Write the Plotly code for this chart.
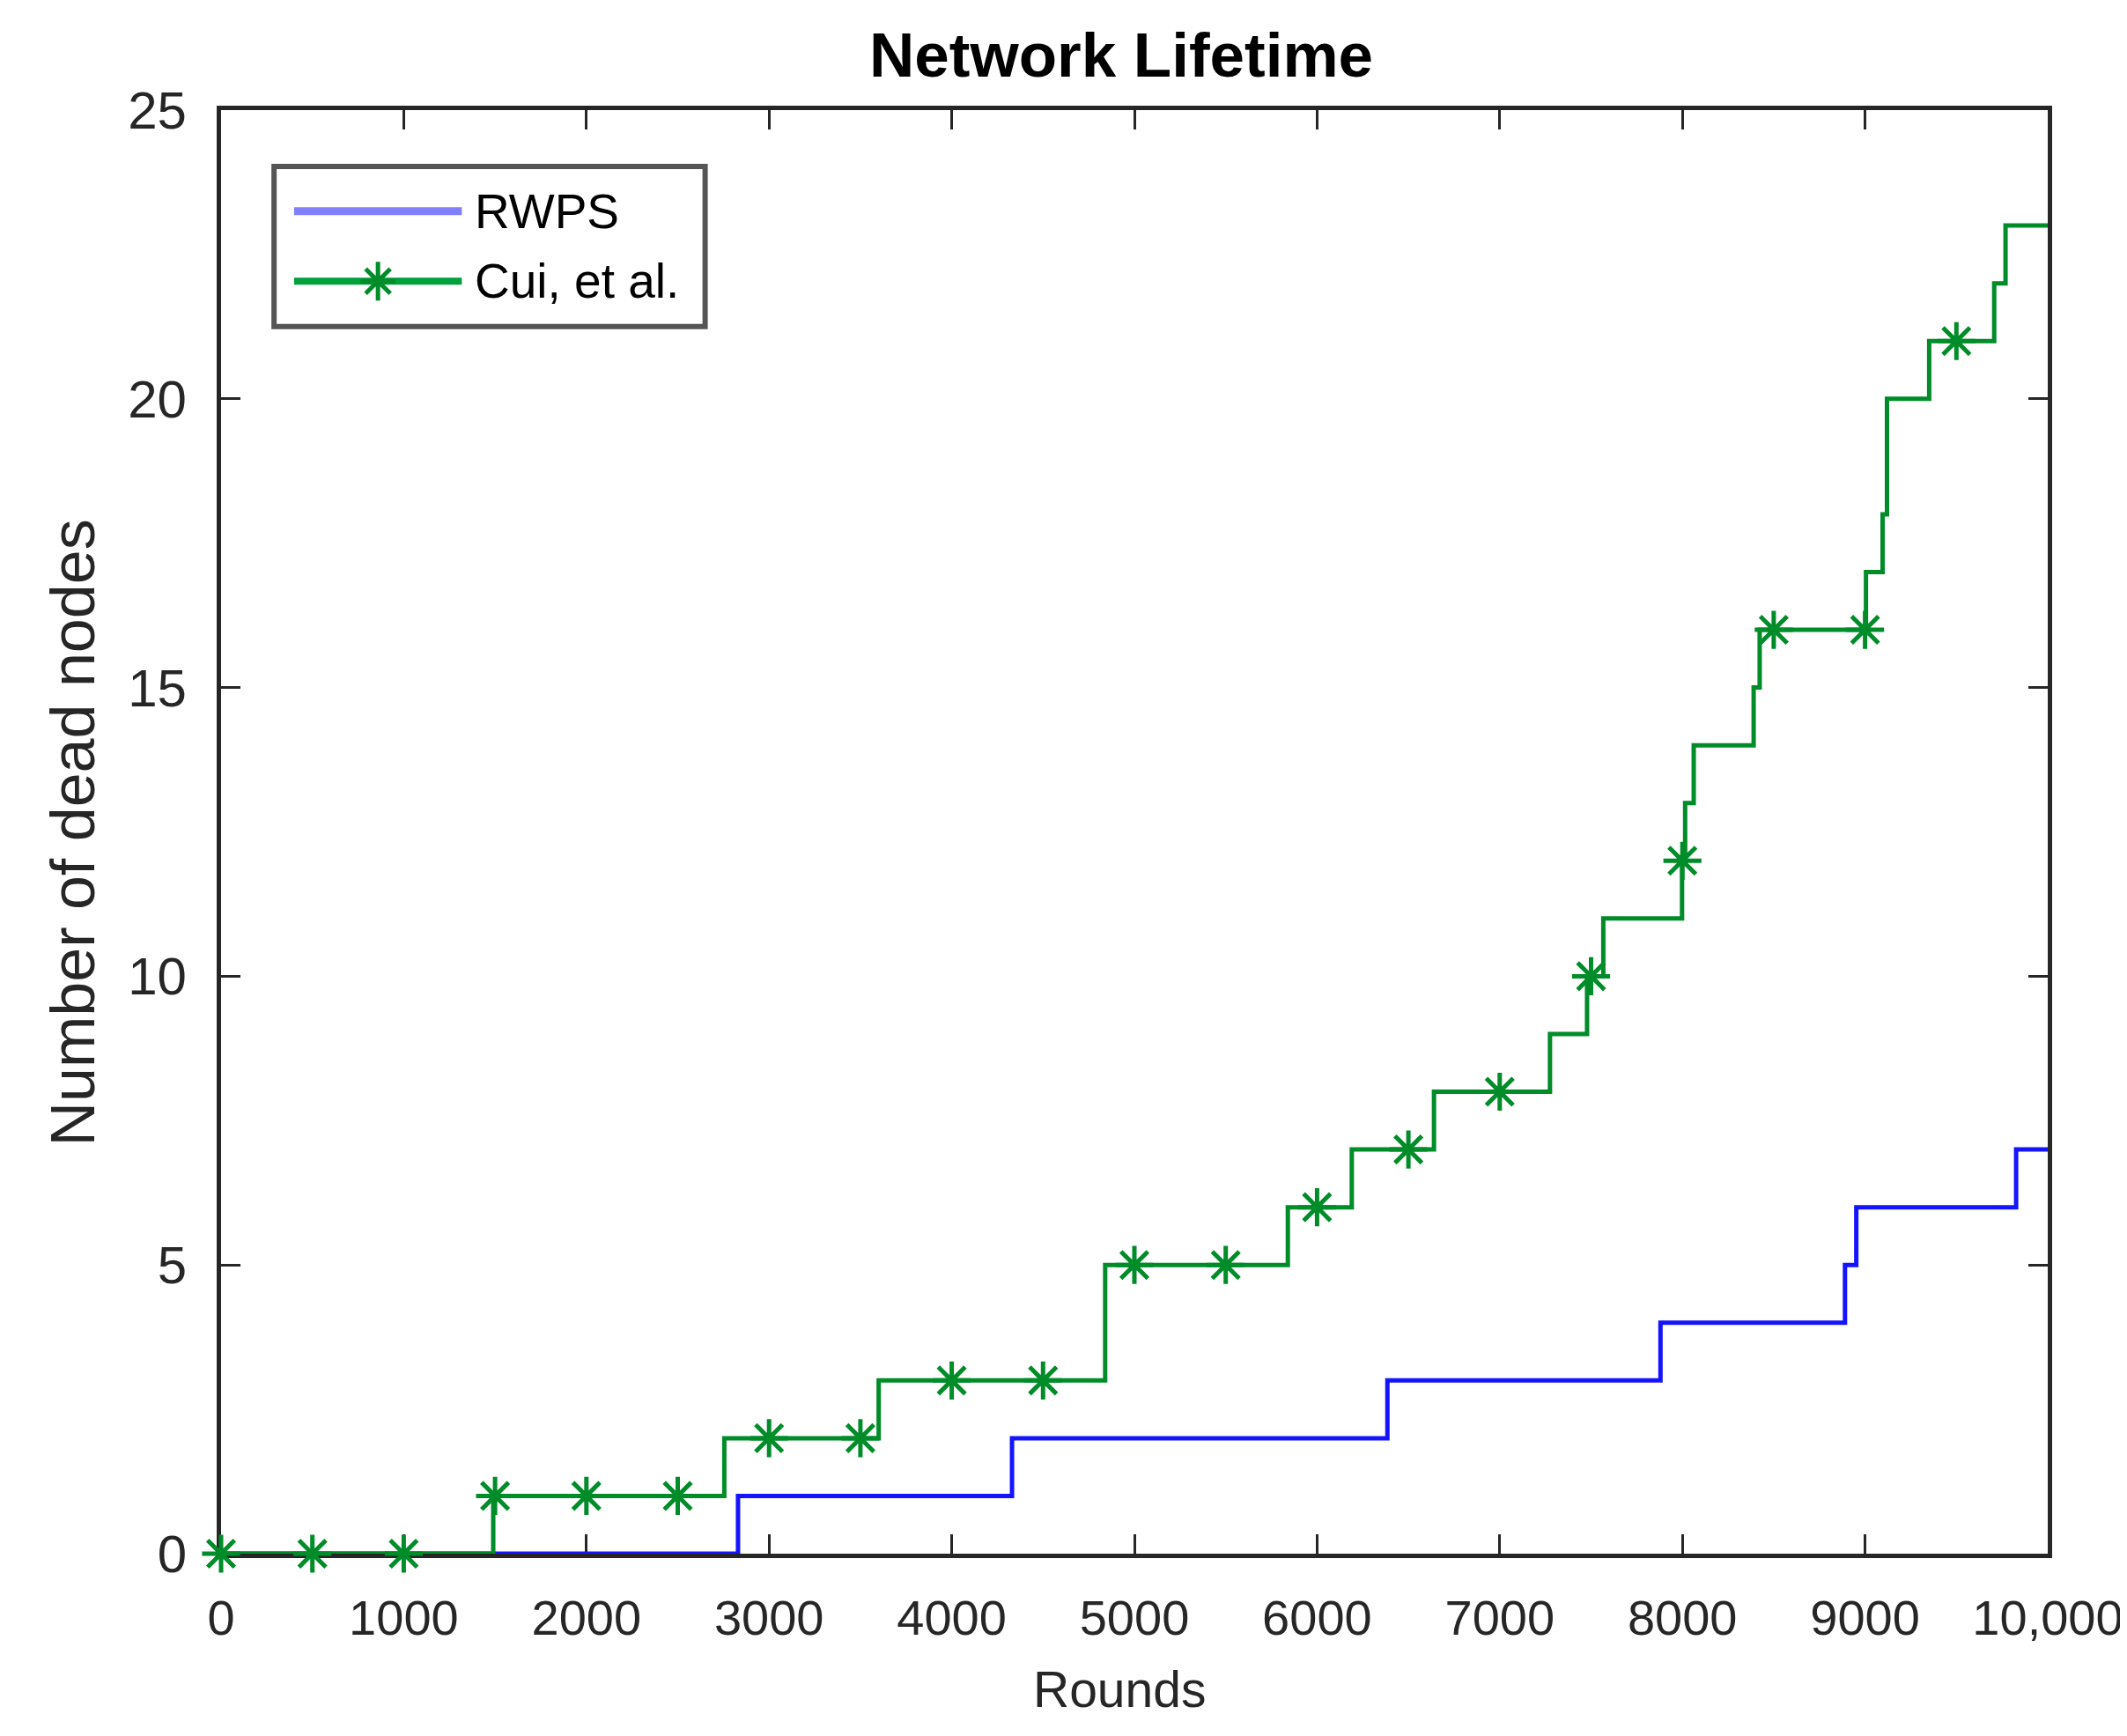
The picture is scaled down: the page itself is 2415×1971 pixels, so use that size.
import plotly.graph_objects as go

# step data (round where the count changes -> new count)
rwps_rounds = [0, 2830, 4330, 6385, 7880, 8890, 8952, 9827, 10000]
rwps_dead = [0, 1, 2, 3, 4, 5, 6, 7, 7]

cui_rounds = [0, 1490, 2755, 3600, 4840, 5840, 6190, 6640, 7275, 7478, 7567,
              7998, 8015, 8062, 8390, 8423, 9005, 9096, 9120, 9351, 9707, 9769, 10000]
cui_dead = [0, 1, 2, 3, 5, 6, 7, 8, 9, 10, 11,
            12, 13, 14, 15, 16, 17, 18, 20, 21, 22, 23, 23]

# asterisk markers every 500 rounds
marker_rounds = [0, 500, 1000, 1500, 2000, 2500, 3000, 3500, 4000, 4500,
                 5000, 5500, 6000, 6500, 7000, 7500, 8000, 8500, 9000, 9500]
marker_dead = [0, 0, 0, 1, 1, 1, 2, 2, 3, 3,
               5, 5, 6, 7, 8, 10, 12, 16, 16, 21]

x_ticks = [0, 1000, 2000, 3000, 4000, 5000, 6000, 7000, 8000, 9000, 10000]
x_tick_text = ['0', '1000', '2000', '3000', '4000', '5000', '6000', '7000', '8000', '9000', '10,000']
y_ticks = [0, 5, 10, 15, 20, 25]

BLUE = 'rgb(20,20,255)'
GREEN = 'rgb(0,140,40)'
AXC = '#262626'
FONT = 'Liberation Sans, Arial, sans-serif'

fig = go.Figure()

fig.add_trace(go.Scatter(
    x=rwps_rounds, y=rwps_dead, name='RWPS', mode='lines',
    line=dict(color=BLUE, width=5, shape='hv'),
    showlegend=False, cliponaxis=False,
))
fig.add_trace(go.Scatter(
    x=cui_rounds, y=cui_dead, name='Cui, et al.', mode='lines',
    line=dict(color=GREEN, width=5, shape='hv'),
    showlegend=False, cliponaxis=False,
))
fig.add_trace(go.Scatter(
    x=marker_rounds, y=marker_dead, name='Cui, et al.', mode='markers',
    marker=dict(symbol='asterisk-open', size=36, color=GREEN,
                line=dict(color=GREEN, width=5)),
    showlegend=False, cliponaxis=False,
))

# legend drawn by hand so the swatch lines are as long as in the original
lx0, lx1 = 0.0290, 0.2650
ly0, ly1 = 0.8500, 0.9610
sw0, sw1 = 0.0400, 0.1318
row1, row2 = 0.9300, 0.8815
shapes = [
    dict(type='rect', xref='paper', yref='paper', x0=lx0, x1=lx1, y0=ly0, y1=ly1,
         line=dict(color='#555555', width=6), fillcolor='white', layer='above'),
    dict(type='line', xref='paper', yref='paper', x0=sw0, x1=sw1, y0=row1, y1=row1,
         line=dict(color='#7f7fff', width=9), layer='above'),
    dict(type='line', xref='paper', yref='paper', x0=sw0, x1=sw1, y0=row2, y1=row2,
         line=dict(color='rgb(0,160,60)', width=8), layer='above'),
    dict(type='path', xref='paper', yref='paper', xsizemode='pixel', ysizemode='pixel',
         xanchor=(sw0 + sw1) / 2, yanchor=row2,
         path='M-20,0L20,0M0,-22L0,22M-14,-14L14,14M-14,14L14,-14',
         line=dict(color=GREEN, width=5), layer='above'),
]

annotations = [
    dict(text='RWPS', xref='paper', yref='paper', x=0.1380, y=row1,
         xanchor='left', yanchor='middle', showarrow=False,
         font=dict(family=FONT, size=55, color='black')),
    dict(text='Cui, et al.', xref='paper', yref='paper', x=0.1380, y=row2,
         xanchor='left', yanchor='middle', showarrow=False,
         font=dict(family=FONT, size=55, color='black')),
    dict(text='Rounds', xref='paper', yref='paper', x=0.492, y=0,
         yshift=-154, xanchor='center', yanchor='middle', showarrow=False,
         font=dict(family=FONT, size=57, color=AXC)),
    dict(text='Number of dead nodes', xref='paper', yref='paper', x=-0.081, y=0.4994,
         xanchor='center', yanchor='middle', textangle=-90, showarrow=False,
         font=dict(family=FONT, size=70, color=AXC)),
]

fig.update_layout(
    width=2415, height=1971, autosize=False,
    margin=dict(l=243, r=92, t=117, b=215),
    paper_bgcolor='white', plot_bgcolor='white',
    title=dict(text='Network Lifetime', x=0.4928, xref='paper', xanchor='center',
               y=1 - 54 / 1971, yref='container', yanchor='middle',
               font=dict(family=FONT, size=71, color='black', weight='bold')),
    shapes=shapes,
    annotations=annotations,
    showlegend=False,
)

fig.update_xaxes(
    range=[0, 10000], tickvals=x_ticks, ticktext=x_tick_text,
    ticks='inside', ticklen=22, tickwidth=3, tickcolor=AXC,
    showline=True, linewidth=5, linecolor=AXC, mirror='ticks',
    showgrid=False, zeroline=False, layer='below traces',
    tickfont=dict(family=FONT, size=56, color=AXC), ticklabelstandoff=20,
)
fig.update_yaxes(
    range=[0, 25], tickvals=y_ticks,
    ticks='inside', ticklen=22, tickwidth=3, tickcolor=AXC,
    showline=True, linewidth=5, linecolor=AXC, mirror='ticks',
    showgrid=False, zeroline=False, layer='below traces',
    tickfont=dict(family=FONT, size=60, color=AXC), ticklabelstandoff=22,
)

fig.write_html("out.html")
